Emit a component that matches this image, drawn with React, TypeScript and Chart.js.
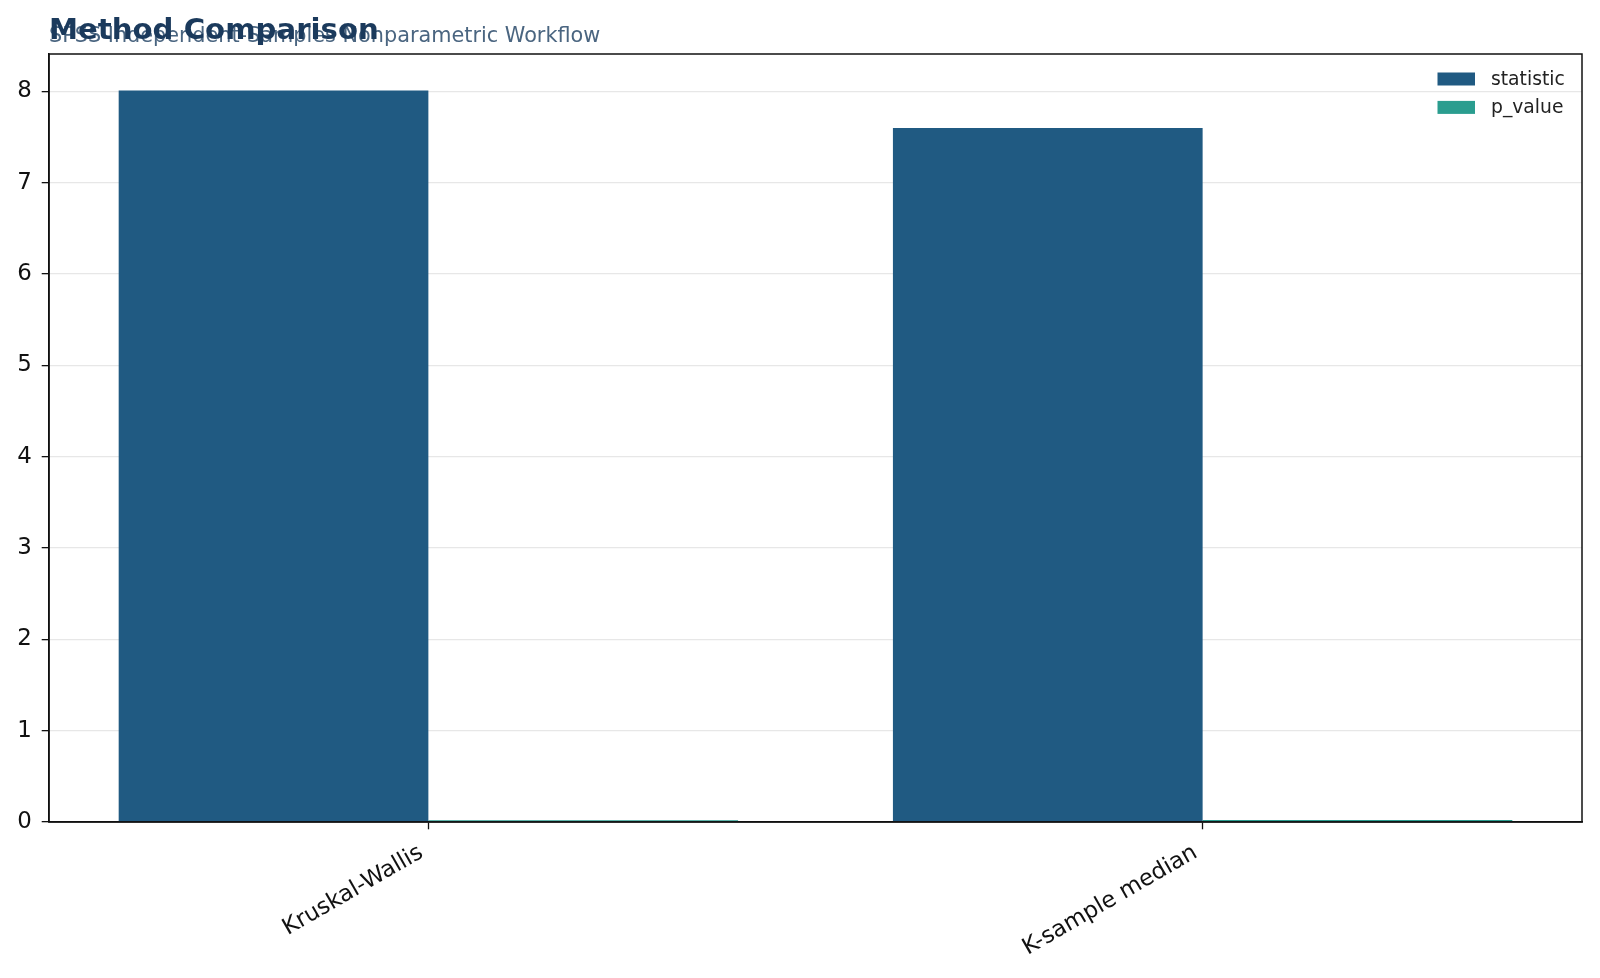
import { useRef, useEffect } from 'react'
import { Chart, registerables } from 'chart.js'

Chart.register(...registerables)

const methods = ['Kruskal-Wallis', 'K-sample median']
const statistic = [8.01, 7.6]
const pValue = [0.018, 0.022]
const yTicks = [0, 1, 2, 3, 4, 5, 6, 7, 8]

const FONT = "'DejaVu Sans', sans-serif"

// matplotlib-like frame, titles and legend
const decor = {
  id: 'decor',
  afterDraw(chart: Chart) {
    const { ctx, chartArea: a } = chart
    ctx.save()
    ctx.strokeStyle = '#111'
    ctx.lineWidth = 1.5
    ctx.strokeRect(a.left, a.top, a.right - a.left, a.bottom - a.top)

    ctx.textBaseline = 'alphabetic'
    ctx.textAlign = 'left'
    ctx.fillStyle = '#4a6580'
    ctx.font = `20.8px ${FONT}`
    ctx.fillText('SPSS Independent-Samples Nonparametric Workflow', a.left, 42.3)
    ctx.fillStyle = '#1b3a5c'
    ctx.font = `bold 29.2px ${FONT}`
    ctx.fillText('Method Comparison', a.left, 39.3)

    ctx.font = `18.75px ${FONT}`
    ctx.textBaseline = 'middle'
    chart.data.datasets.forEach((ds, i) => {
      const y = 79 + i * 28.4
      ctx.fillStyle = ds.backgroundColor as string
      ctx.fillRect(1437.5, y - 6.5, 37.5, 13)
      ctx.fillStyle = '#222'
      ctx.fillText(ds.label as string, 1491, y + 1)
    })
    ctx.restore()
  },
}

export default function App() {
  const canvasRef = useRef<HTMLCanvasElement>(null)
  const chartRef = useRef<Chart | null>(null)

  useEffect(() => {
    if (!canvasRef.current) return
    chartRef.current?.destroy()

    chartRef.current = new Chart(canvasRef.current, {
      type: 'bar',
      data: {
        datasets: [
          { label: 'statistic', data: statistic.map((v, i) => ({ x: i, y: v })), backgroundColor: '#205a82' },
          { label: 'p_value', data: pValue.map((v, i) => ({ x: i, y: v })), backgroundColor: '#2a9d8f' },
        ],
      },
      options: {
        responsive: false,
        animation: false,
        devicePixelRatio: 1,
        datasets: { bar: { categoryPercentage: 0.8, barPercentage: 1.0 } },
        layout: { padding: { top: 54, right: 18, left: 0, bottom: 0 } },
        plugins: {
          legend: { display: false },
          title: { display: false },
          tooltip: { enabled: false },
        },
        scales: {
          x: {
            type: 'linear',
            z: 1,
            min: -0.49,
            max: 1.49,
            offset: false,
            afterFit: (s: any) => { s.height = 156 },
            afterBuildTicks: (s: any) => { s.ticks = methods.map((_, i) => ({ value: i })) },
            grid: { display: true, offset: false, drawOnChartArea: false, tickLength: 7.3, tickColor: '#111', tickWidth: 1.3 },
            border: { display: true, color: '#111', width: 1.5 },
            ticks: {
              color: '#111',
              font: { size: 22.9, family: FONT },
              minRotation: 30,
              maxRotation: 30,
              padding: 10,
              labelOffset: -7,
              callback: (v: any) => methods[v] ?? '',
            },
          },
          y: {
            z: 1,
            min: 0,
            max: 8.41,
            afterFit: (s: any) => { s.width = 49 },
            afterBuildTicks: (s: any) => { s.ticks = yTicks.map((v) => ({ value: v })) },
            grid: { color: 'rgba(176,176,176,0.3)', lineWidth: 1.3, tickLength: 7.3, tickColor: '#111', tickWidth: 1.3 },
            border: { display: true, color: '#111', width: 1.5 },
            ticks: { color: '#111', font: { size: 22.9, family: FONT }, padding: 10 },
          },
        },
      },
      plugins: [decor],
    })

    return () => {
      chartRef.current?.destroy()
      chartRef.current = null
    }
  }, [])

  return (
    <div style={{ position: 'absolute', left: 0, top: 0, width: 1600, height: 978, background: '#fff' }}>
      <canvas ref={canvasRef} width={1600} height={978} />
    </div>
  )
}
